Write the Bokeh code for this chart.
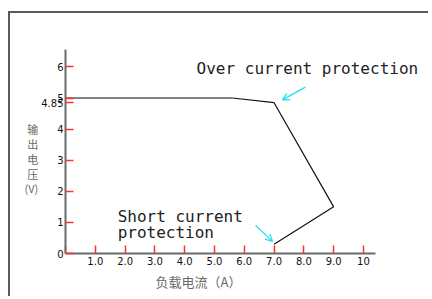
from bokeh.plotting import figure
from bokeh.models import Range1d, FixedTicker, Label, Arrow, OpenHead, Title
from bokeh.embed import file_html
from bokeh.resources import INLINE

# data
curve_x = [0.0, 5.6, 7.0, 9.0, 7.0]
curve_y = [5.0, 5.0, 4.85, 1.5, 0.3]

x_ticks = [0, 1, 2, 3, 4, 5, 6, 7, 8, 9, 10]
x_tick_labels = ["", "1.0", "2.0", "3.0", "4.0", "5.0", "6.0", "7.0", "8.0", "9.0", "10"]
y_ticks = [0, 1, 2, 3, 4, 4.85, 5, 6]
y_tick_labels = ["0", "1", "2", "3", "4", "4.85", "5", "6"]

x_title = "负载电流（A）"
y_title = "\n输\n出\n电\n压\n(V)"
note_over = "Over current protection"
note_short_1 = "Short current"
note_short_2 = "protection"

# annotation anchors (data coords)
over_text_pos = (4.4, 5.95)
short_text_pos = (1.75, 1.19, 0.675)
over_arrow = (8.05, 5.35, 7.28, 4.94)
short_arrow = (6.38, 0.90, 6.95, 0.39)

p = figure(width=420, height=285, output_backend="svg", toolbar_location=None,
           x_range=Range1d(0, 12.25), y_range=Range1d(0, 6.56),
           min_border_left=55, min_border_right=0, min_border_top=36, min_border_bottom=45)
p.styles = {"border-top": "2px solid #5a5a5a", "border-left": "2px solid #5a5a5a",
            "margin-top": "11px", "margin-left": "8px"}
p.outline_line_color = None
p.grid.visible = False
p.background_fill_color = "white"

for ax in (p.xaxis[0], p.yaxis[0]):
    ax.axis_line_color = "#6a6a6a"
    ax.axis_line_width = 2
    ax.major_tick_line_color = "#ff3030"
    ax.major_tick_line_width = 1.5
    ax.major_tick_in = 8
    ax.major_tick_out = 0
    ax.minor_tick_line_color = None
    ax.major_label_text_font = "DejaVu Sans"
    ax.major_label_text_font_size = "10px"
    ax.major_label_text_color = "#111111"

p.xaxis.bounds = (0, 10.4)
p.xaxis.ticker = FixedTicker(ticks=x_ticks)
p.xaxis.major_label_overrides = {t: l for t, l in zip(x_ticks, x_tick_labels)}
p.xaxis.major_label_standoff = 3
p.yaxis.ticker = FixedTicker(ticks=y_ticks)
p.yaxis.major_label_overrides = {t: l for t, l in zip(y_ticks, y_tick_labels)}
p.yaxis.major_label_standoff = 2
p.yaxis.axis_label = y_title
p.yaxis.axis_label_orientation = "horizontal"
p.yaxis.axis_label_text_font = "Noto Sans CJK SC"
p.yaxis.axis_label_text_font_size = "11px"
p.yaxis.axis_label_text_font_style = "normal"
p.yaxis.axis_label_text_color = "#6a6a6a"
p.yaxis.axis_label_text_line_height = 0.92
p.yaxis.axis_label_standoff = 0

p.add_layout(Title(text=x_title, align="left", offset=90, text_font="Noto Sans CJK SC",
                   text_font_size="13px", text_font_style="normal",
                   text_color="#6a6a6a", standoff=5), "below")

p.line(curve_x[:2], curve_y[:2], line_color="#5a5a5a", line_width=1.5)
p.line(curve_x[1:], curve_y[1:], line_color="#111111", line_width=1.2)

mono = "DejaVu Sans Mono"
p.add_layout(Label(x=over_text_pos[0], y=over_text_pos[1], text=note_over,
                   text_font=mono, text_font_size="16px", text_color="#222222",
                   text_baseline="middle"))
p.add_layout(Label(x=short_text_pos[0], y=short_text_pos[1], text=note_short_1,
                   text_font=mono, text_font_size="16px", text_color="#222222",
                   text_baseline="middle"))
p.add_layout(Label(x=short_text_pos[0], y=short_text_pos[2], text=note_short_2,
                   text_font=mono, text_font_size="16px", text_color="#222222",
                   text_baseline="middle"))

for (x0, y0, x1, y1) in (over_arrow, short_arrow):
    p.add_layout(Arrow(x_start=x0, y_start=y0, x_end=x1, y_end=y1,
                       line_color="#22ddee", line_width=1.2,
                       end=OpenHead(size=7, line_color="#22ddee", line_width=1.2)))

open("out.html", "w").write(file_html(p, INLINE))
